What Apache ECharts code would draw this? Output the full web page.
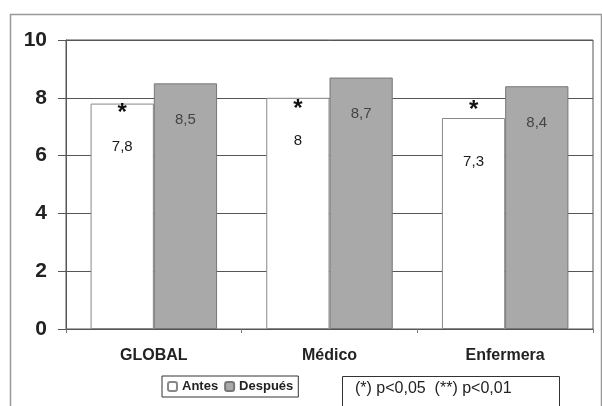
<!DOCTYPE html>
<html><head><meta charset="utf-8">
<script src="https://cdn.jsdelivr.net/npm/echarts@6/dist/echarts.min.js"></script>
<style>html,body{margin:0;padding:0;background:#fff}#c{width:602px;height:406px}</style>
</head><body><div id="c"></div>
<script>
const categories = ['GLOBAL', 'Médico', 'Enfermera'];
const antes = [7.8, 8, 7.3];
const despues = [8.5, 8.7, 8.4];
const sigMarks = ['*', '*', '*'];
const sigY = [7.45, 7.6, 7.55];
const yTicks = [0, 2, 4, 6, 8, 10];
const noteText = '(*) p<0,05  (**) p<0,01';

const fmt = v => String(v).replace('.', ',');
const chart = echarts.init(document.getElementById('c'));
chart.setOption({
  animation: false,
  backgroundColor: '#fff',
  textStyle: { fontFamily: 'Liberation Sans, Arial, sans-serif' },
  grid: { left: 66, right: 9, top: 40, bottom: 77, show: true, borderColor: '#555', borderWidth: 1 },
  legend: {
    left: 162, top: 376, itemWidth: 9, itemHeight: 9, itemGap: 6,
    padding: [4, 5, 4, 5], borderColor: '#333', borderWidth: 1,
    textStyle: { fontSize: 13, fontWeight: 'bold', color: '#222', fontFamily: 'Liberation Sans, Arial, sans-serif' },
    data: ['Antes', 'Después']
  },
  xAxis: {
    type: 'category', data: categories,
    axisLine: { lineStyle: { color: '#555', width: 1 } },
    axisTick: { show: true, length: 4, lineStyle: { color: '#777' } },
    axisLabel: { margin: 19, fontSize: 16, fontWeight: 'bold', color: '#222' }
  },
  yAxis: {
    type: 'value', min: yTicks[0], max: yTicks[yTicks.length - 1], interval: 2,
    axisLine: { show: true, lineStyle: { color: '#555' } },
    axisTick: { show: true, length: 8, lineStyle: { color: '#555' } },
    axisLabel: { margin: 19, fontSize: 21, fontWeight: 'bold', color: '#222' },
    splitLine: { lineStyle: { color: '#555', width: 1 } }
  },
  series: [
    {
      name: 'Antes', type: 'bar', data: antes, barGap: '0%', barCategoryGap: '28%',
      itemStyle: { color: '#fff', borderColor: '#888', borderWidth: 1 },
      label: { show: true, position: 'insideTop', distance: 36, fontSize: 15, color: '#1a1a1a', formatter: p => fmt(p.value) },
      markPoint: {
        symbol: 'rect', symbolSize: 0,
        label: { show: true, position: 'inside', fontSize: 24, fontWeight: 'bold', color: '#111', formatter: p => p.name },
        data: categories.map((c, i) => ({ name: sigMarks[i], coord: [c, sigY[i]] }))
      }
    },
    {
      name: 'Después', type: 'bar', data: despues,
      itemStyle: { color: '#a9a9a9', borderColor: '#777', borderWidth: 1 },
      label: { show: true, position: 'insideTop', distance: 29, fontSize: 15, color: '#444', formatter: p => fmt(p.value) }
    }
  ],
  graphic: [
    { type: 'rect', left: 8, top: 12, shape: { width: 591, height: 400 }, style: { fill: 'none', stroke: '#999', lineWidth: 1.5 }, silent: true },
    { type: 'rect', left: 340, top: 374, shape: { width: 217, height: 40 }, style: { fill: 'none', stroke: '#333', lineWidth: 1 } },
    { type: 'text', left: 355, top: 381, style: { text: noteText, fontSize: 16, fill: '#222', fontFamily: 'Liberation Sans, Arial, sans-serif' } }
  ]
});
</script></body></html>
